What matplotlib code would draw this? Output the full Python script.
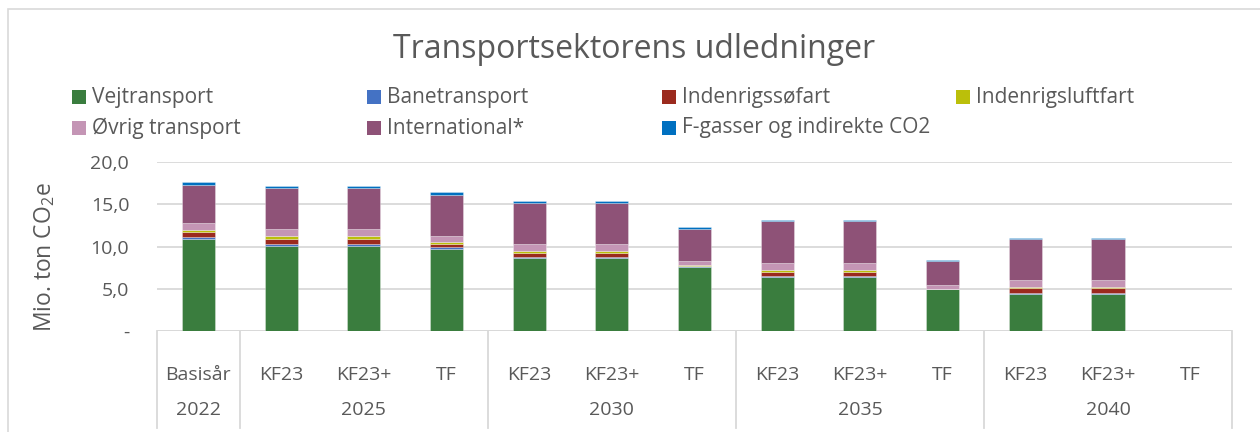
import matplotlib
matplotlib.use("Agg")
import matplotlib.pyplot as plt
from matplotlib.lines import Line2D
from matplotlib.patches import Rectangle
import numpy as np

plt.rcParams['font.family'] = ['Open Sans', 'DejaVu Sans']
plt.rcParams['mathtext.default'] = 'regular'

scenarios = ["Basisår", "KF23", "KF23+", "TF", "KF23", "KF23+", "TF",
             "KF23", "KF23+", "TF", "KF23", "KF23+", "TF"]
years = ["2022", "2025", "2030", "2035", "2040"]
year_span = [1, 3, 3, 3, 3]

series_names = ["Vejtransport", "Banetransport", "Indenrigssøfart", "Indenrigsluftfart",
                "Øvrig transport", "International*", "F-gasser og indirekte CO2"]

vej = [10.84, 10.09, 10.09, 9.69, 8.65, 8.65, 7.62, 6.40, 6.40, 5.00, 4.43, 4.43, 0]
bane = [0.24, 0.24, 0.24, 0.20, 0.10, 0.10, 0.02, 0.08, 0.08, 0.0, 0.05, 0.05, 0]
soefart = [0.63, 0.59, 0.59, 0.39, 0.50, 0.50, 0.03, 0.53, 0.53, 0.0, 0.60, 0.60, 0]
luftfart = [0.20, 0.28, 0.28, 0.24, 0.24, 0.24, 0.10, 0.24, 0.24, 0.02, 0.16, 0.16, 0]
oevrig = [0.83, 0.83, 0.83, 0.71, 0.79, 0.79, 0.55, 0.75, 0.75, 0.43, 0.79, 0.79, 0]
international = [4.53, 4.85, 4.85, 4.85, 4.85, 4.85, 3.78, 4.96, 4.96, 2.84, 4.81, 4.81, 0]
fgas = [0.32, 0.32, 0.32, 0.32, 0.20, 0.20, 0.20, 0.20, 0.20, 0.16, 0.16, 0.16, 0]

series = [vej, bane, soefart, luftfart, oevrig, international, fgas]
colors = ["#3A7D3E", "#4472C4", "#9B2A1E", "#BBBF0A", "#C495B5", "#8E5277", "#0070C0"]

W, H = 1260, 432
fig = plt.figure(figsize=(W / 100, H / 100), dpi=100)
txt = "#595959"
grid = "#D9D9D9"

# outer chart border (cropped chart)
fig.add_artist(Rectangle((8 / W, -0.05), 1.2, (H - 9) / H + 0.05, transform=fig.transFigure,
                         fill=False, edgecolor=grid, lw=1.2))

ax = fig.add_axes([157 / W, (H - 331) / H, (1232 - 157) / W, (331 - 162) / H])
x = np.arange(len(scenarios))
bottom = np.zeros(len(scenarios))
for name, vals, c in zip(series_names, series, colors):
    v = np.array(vals, dtype=float)
    ax.bar(x, v, width=0.40, bottom=bottom, color=c, label=name,
           edgecolor=(1, 1, 1, 0.35), linewidth=0.6, zorder=3)
    bottom += v

ax.set_xlim(-0.5, len(scenarios) - 0.5)
ax.set_ylim(0, 20)
ax.set_yticks([0, 5, 10, 15, 20])
ax.set_yticklabels(["-", "5,0", "10,0", "15,0", "20,0"], color=txt, fontsize=14)
ax.tick_params(axis='y', length=0, pad=20)
ax.set_xticks([])
for s in ax.spines.values():
    s.set_visible(False)
ax.yaxis.grid(True, color=grid, lw=1.3, zorder=0)
ax.axhline(0, color=grid, lw=1.3, zorder=1)
ax.set_ylabel("Mio. ton CO$_2$e", color=txt, fontsize=16.5)
ax.yaxis.set_label_coords(-0.093, (331 - 257) / (331 - 162))

# category axis (two levels)
ybot = (331 - 428) / (331 - 162)
y1 = (331 - 375) / (331 - 162)
y2 = (331 - 410) / (331 - 162)
for i, s in enumerate(scenarios):
    ax.text(i, y1, s, transform=ax.get_xaxis_transform(), ha='center', va='center',
            color=txt, fontsize=14)
edges = np.concatenate([[0], np.cumsum(year_span)]) - 0.5
for e in edges:
    ax.add_line(Line2D([e, e], [0, ybot], transform=ax.get_xaxis_transform(),
                       color=grid, lw=1.3, clip_on=False))
for k, yl in enumerate(years):
    cx = (edges[k] + edges[k + 1]) / 2
    ax.text(cx, y2, yl, transform=ax.get_xaxis_transform(), ha='center', va='center',
            color=txt, fontsize=14)

fig.text(634 / W, 1 - 50 / H, "Transportsektorens udledninger", ha='center', va='center',
         color=txt, fontsize=23)

# legend laid out row-major in 4 equal-width columns (as in the reference)
col_x = [72, 367, 662, 956]
row_y = [97, 128]
for k, (name, c) in enumerate(zip(series_names, colors)):
    r, cidx = divmod(k, 4)
    lx, ly = col_x[cidx], row_y[r]
    fig.add_artist(Rectangle((lx / W, 1 - (ly + 7) / H), 14 / W, 14 / H,
                             transform=fig.transFigure, facecolor=c, edgecolor='none'))
    fig.text((lx + 20) / W, 1 - ly / H, name, ha='left', va='center', color=txt, fontsize=15)

fig.savefig("out.png", dpi=100)
